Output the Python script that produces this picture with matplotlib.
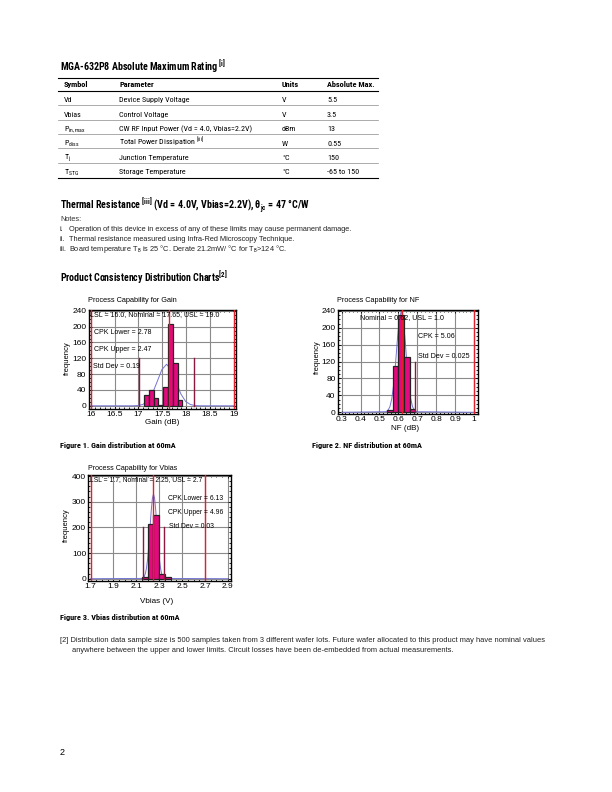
import matplotlib
matplotlib.use('Agg')
import matplotlib.pyplot as plt
from matplotlib import font_manager
from matplotlib.lines import Line2D
from matplotlib.ticker import MultipleLocator, FuncFormatter

# pick the narrowest sans family that is installed for the condensed headings
avail = {f.name for f in font_manager.fontManager.ttflist}
COND = next((n for n in ['Roboto Condensed', 'Liberation Sans Narrow', 'Open Sans Condensed',
                         'Roboto', 'Liberation Sans'] if n in avail), 'DejaVu Sans')
REG = 'Liberation Sans' if 'Liberation Sans' in avail else 'DejaVu Sans'

plt.rcParams['font.family'] = [REG, 'DejaVu Sans']
plt.rcParams['mathtext.fontset'] = 'custom'
plt.rcParams['mathtext.rm'] = COND
plt.rcParams['mathtext.bf'] = COND + ':bold'
plt.rcParams['mathtext.it'] = COND + ':italic'

# absolute maximum rating table
table_header = ['Symbol', 'Parameter', 'Units', 'Absolute Max.']
table_symbols = ['Vd', 'Vbias', r'P$_{\mathrm{in,max}}$', r'P$_{\mathrm{diss}}$',
                 r'T$_{\mathrm{j}}$', r'T$_{\mathrm{STG}}$']
table_params = ['Device Supply Voltage', 'Control Voltage',
                'CW RF Input Power (Vd = 4.0, Vbias=2.2V)',
                r'Total Power Dissipation $^{\mathrm{[iii]}}$',
                'Junction Temperature', 'Storage Temperature']
table_units = ['V', 'V', 'dBm', 'W', '°C', '°C']
table_max = ['5.5', '3.5', '13', '0.55', '150', '-65 to 150']

notes = ['Operation of this device in excess of any of these limits may cause permanent damage.',
         'Thermal resistance measured using Infra-Red Microscopy Technique.',
         r'Board temperature T$_{\mathrm{B}}$ is 25 °C. Derate 21.2mW/ °C for T$_{\mathrm{B}}$>124 °C.']
note_marks = ['i.', 'ii.', 'iii.']

# gain histogram
gain_edges = [17.12, 17.22, 17.32, 17.42, 17.52, 17.62, 17.72, 17.82, 17.92]
gain_counts = [28, 41, 20, 3, 47, 207, 107, 15]
gain_curve_x = [16.0, 16.89, 16.99, 17.09, 17.19, 17.29, 17.39, 17.49, 17.59,
                17.69, 17.79, 17.89, 17.99, 18.09, 18.19, 18.29, 19.0]
gain_curve_y = [0, 0.1, 0.7, 3.3, 11, 30, 60, 91, 105, 91, 60, 30, 11, 3.3, 0.7, 0.1, 0]
gain_limits = [16.0, 17.65, 19.0]
gain_sigma = [17.02, 18.16]
gain_ticks = [16, 16.5, 17, 17.5, 18, 18.5, 19]
gain_notes = ['LSL = 16.0, Nominal = 17.65, USL = 19.0', 'CPK Lower = 2.78',
              'CPK Upper = 2.47', 'Std Dev = 0.19']

# NF histogram
nf_edges = [0.54, 0.57, 0.60, 0.63, 0.66, 0.69]
nf_counts = [6, 109, 230, 132, 8]
nf_curve_x = [0.3, 0.535, 0.545, 0.555, 0.565, 0.575, 0.585, 0.595, 0.605, 0.615,
              0.625, 0.635, 0.645, 0.655, 0.665, 0.675, 0.685, 0.695, 1.0]
nf_curve_y = [0, 1.4, 5, 13, 32, 66, 116, 174, 221, 239, 221, 174, 116, 66, 32, 13, 5, 1.4, 0]
nf_limits = [0.62, 1.0]
nf_sigma = [0.69]
nf_ticks = [0.3, 0.4, 0.5, 0.6, 0.7, 0.8, 0.9, 1.0]
nf_notes = ['Nominal = 0.62, USL = 1.0', 'CPK = 5.06', 'Std Dev = 0.025']

# Vbias histogram
vb_edges = [2.15, 2.20, 2.25, 2.30, 2.35, 2.40]
vb_counts = [8, 213, 249, 20, 5]
vb_curve_x = [1.7, 2.15, 2.16, 2.17, 2.18, 2.19, 2.20, 2.21, 2.22, 2.23, 2.24, 2.25,
              2.26, 2.27, 2.28, 2.29, 2.30, 2.31, 2.32, 2.33, 2.34, 2.35, 2.9]
vb_curve_y = [0, 1, 4, 9, 22, 45, 82, 136, 200, 264, 312, 330,
              312, 264, 200, 136, 82, 45, 22, 9, 4, 1, 0]
vb_limits = [1.7, 2.25, 2.7]
vb_sigma = [2.16, 2.34]
vb_ticks = [1.7, 1.9, 2.1, 2.3, 2.5, 2.7, 2.9]
vb_notes = ['LSL = 1.7, Nominal = 2.25, USL = 2.7', 'CPK Lower = 6.13',
            'CPK Upper = 4.96', 'Std Dev = 0.03']

W, H = 612, 792
fig = plt.figure(figsize=(W / 100, H / 100), dpi=100)
renderer = fig.canvas.get_renderer()


def txt(x, y, s, size=6.5, **kw):
    kw.setdefault('va', 'baseline')
    return fig.text(x / W, 1 - y / H, s, fontsize=size, **kw)


def fit(t, width):
    # shrink a text so that it spans the same number of pixels as in the page
    w = t.get_window_extent(renderer).width
    t.set_fontsize(t.get_fontsize() * width / w)
    return t.get_fontsize()


def hline(y, x0, x1, color='black', lw=0.7):
    fig.add_artist(Line2D([x0 / W, x1 / W], [1 - y / H, 1 - y / H],
                          color=color, lw=lw, transform=fig.transFigure))


def add_ax(left, top, right, bottom):
    return fig.add_axes([left / W, 1 - bottom / H, (right - left) / W, (bottom - top) / H])


def draw_chart(ax, edges, counts, cx, cy, limits, sigma, sigma_h,
               xlim, ylim, ticks, xmin, ymaj, ymin):
    widths = [b - a for a, b in zip(edges[:-1], edges[1:])]
    ax.plot(cx, cy, color='#7474d4', lw=0.7, zorder=2)
    ax.bar(edges[:-1], counts, width=widths, align='edge', color='#e4097f',
           edgecolor='#222222', lw=0.9, zorder=3)
    for v in limits:
        ax.axvline(v, color='#e3202a', lw=1.0, zorder=4)
    for v in sigma:
        ax.plot([v, v], [0, sigma_h], color='#8c1840', lw=1.0, zorder=4)
    ax.set_xlim(*xlim)
    ax.set_ylim(*ylim)
    ax.set_xticks(ticks)
    ax.xaxis.set_minor_locator(MultipleLocator(xmin))
    ax.yaxis.set_major_locator(MultipleLocator(ymaj))
    ax.yaxis.set_minor_locator(MultipleLocator(ymin))
    ax.xaxis.set_major_formatter(FuncFormatter(lambda v, p: '%g' % round(v, 3)))
    ax.grid(True, which='major', color='#8a8a8a', lw=0.8, zorder=0)
    ax.set_axisbelow(True)
    ax.tick_params(which='both', direction='in', top=True, right=True,
                   labelsize=6.0, pad=1.5, width=0.6)
    ax.tick_params(which='major', length=2.5)
    ax.tick_params(which='minor', length=1.5)
    for sp in ax.spines.values():
        sp.set_linewidth(1.0)


def chart_texts(positions, lines, width):
    first = txt(positions[0][0], positions[0][1], lines[0], size=6)
    size = fit(first, width)
    for (x, y), s in zip(positions[1:], lines[1:]):
        txt(x, y, s, size=size)


# page header and table
fit(txt(60, 71, r'MGA-632P8 Absolute Maximum Rating $^{\mathbf{[i]}}$', size=9,
        weight='bold', family=COND), 166)
hline(77.7, 58, 378, lw=0.8)
hline(90.7, 58, 378, lw=0.8)
for i in range(1, 6):
    hline(90.7 + 14.4 * i, 58, 378, color='#8a8a8a', lw=0.5)
hline(178.3, 58, 378, lw=0.8)
col_x = [64, 119, 282, 327]
head = [txt(cx_, 87, s, size=6.5, weight='bold', family=COND) for cx_, s in zip(col_x, table_header)]
hsize = fit(head[3], 48)
for t in head:
    t.set_fontsize(hsize)
probe = txt(col_x[1], 131.2, table_params[2], size=6.5, family=COND)
tsize = fit(probe, 132)
for i in range(6):
    yb = 102.3 + 14.4 * i
    txt(col_x[0], yb, table_symbols[i], size=tsize, family=COND)
    if i != 2:
        txt(col_x[1], yb, table_params[i], size=tsize, family=COND)
    txt(col_x[2], yb, table_units[i], size=tsize, family=COND)
    txt(col_x[3], yb, table_max[i], size=tsize, family=COND)

fit(txt(60, 209, r'Thermal Resistance $^{\mathbf{[iii]}}$ (Vd = 4.0V, Vbias=2.2V), θ$_{\mathbf{jc}}$ = 47 °C/W',
        size=9, weight='bold', family=COND), 249)
nsize = fit(txt(69, 231.3, notes[0], size=6, color='#222222'), 289)
txt(60, 221, 'Notes:', size=nsize, color='#333333')
for i, (m, s) in enumerate(zip(note_marks, notes)):
    txt(60, 231.3 + 10 * i, m, size=nsize, color='#222222')
    if i > 0:
        txt(69, 231.3 + 10 * i, s, size=nsize, color='#222222')

fit(txt(60, 282, 'Product Consistency Distribution Charts$^{\\mathbf{[2]}}$', size=9,
        weight='bold', family=COND), 168)

# Figure 1: gain
ax1 = add_ax(88.5, 310, 236, 409)
draw_chart(ax1, gain_edges, gain_counts, gain_curve_x, gain_curve_y, gain_limits,
           gain_sigma, 120, (15.955, 19.045), (-8, 242), gain_ticks, 0.1, 40, 10)
fit(txt(87.5, 302.5, 'Process Capability for Gain', size=6), 90)
txt(162, 422, 'Gain (dB)', size=5.8, ha='center', va='center')
txt(67.5, 358, 'frequency', size=5.5, rotation=90, ha='center', va='center')
chart_texts([(90, 316), (94.3, 334), (94.3, 351), (93.3, 367.5)], gain_notes, 130)
cap = fit(txt(60, 448, 'Figure 1. Gain distribution at 60mA', size=6.5, weight='bold',
              family=COND), 116)

# Figure 2: NF
ax2 = add_ax(337.7, 310, 478, 414)
draw_chart(ax2, nf_edges, nf_counts, nf_curve_x, nf_curve_y, nf_limits,
           nf_sigma, 120, (0.279, 1.021), (-4, 242), nf_ticks, 0.02, 40, 10)
fit(txt(337, 302.5, 'Process Capability for NF', size=6), 83)
txt(405, 428.5, 'NF (dB)', size=5.8, ha='center', va='center')
txt(317, 357, 'frequency', size=5.5, rotation=90, ha='center', va='center')
chart_texts([(360, 319), (418, 337.5), (418, 358)], nf_notes, 85)
txt(312, 448, 'Figure 2. NF distribution at 60mA', size=cap, weight='bold', family=COND)

# Figure 3: Vbias
ax3 = add_ax(88.3, 475, 230.7, 581)
draw_chart(ax3, vb_edges, vb_counts, vb_curve_x, vb_curve_y, vb_limits,
           vb_sigma, 200, (1.68, 2.925), (-9, 404), vb_ticks, 0.05, 100, 20)
fit(txt(87.5, 470.5, 'Process Capability for Vbias', size=6), 90)
txt(157, 601.7, 'Vbias (V)', size=5.8, ha='center', va='center')
txt(66.5, 525, 'frequency', size=5.5, rotation=90, ha='center', va='center')
chart_texts([(90, 481.5), (167.5, 500.5), (167.5, 514.5), (169, 528.5)], vb_notes, 113)
txt(60, 620, 'Figure 3. Vbias distribution at 60mA', size=cap, weight='bold', family=COND)

fsize = fit(txt(60, 642, '[2] Distribution data sample size is 500 samples taken from 3 different '
                'wafer lots. Future wafer allocated to this product may have nominal values',
                size=6, color='#222222'), 491)
txt(71.5, 652, 'anywhere between the upper and lower limits. Circuit losses have been '
    'de-embedded from actual measurements.', size=fsize, color='#222222')
txt(60, 755, '2', size=6.5)

fig.savefig('out.png', dpi=100)
